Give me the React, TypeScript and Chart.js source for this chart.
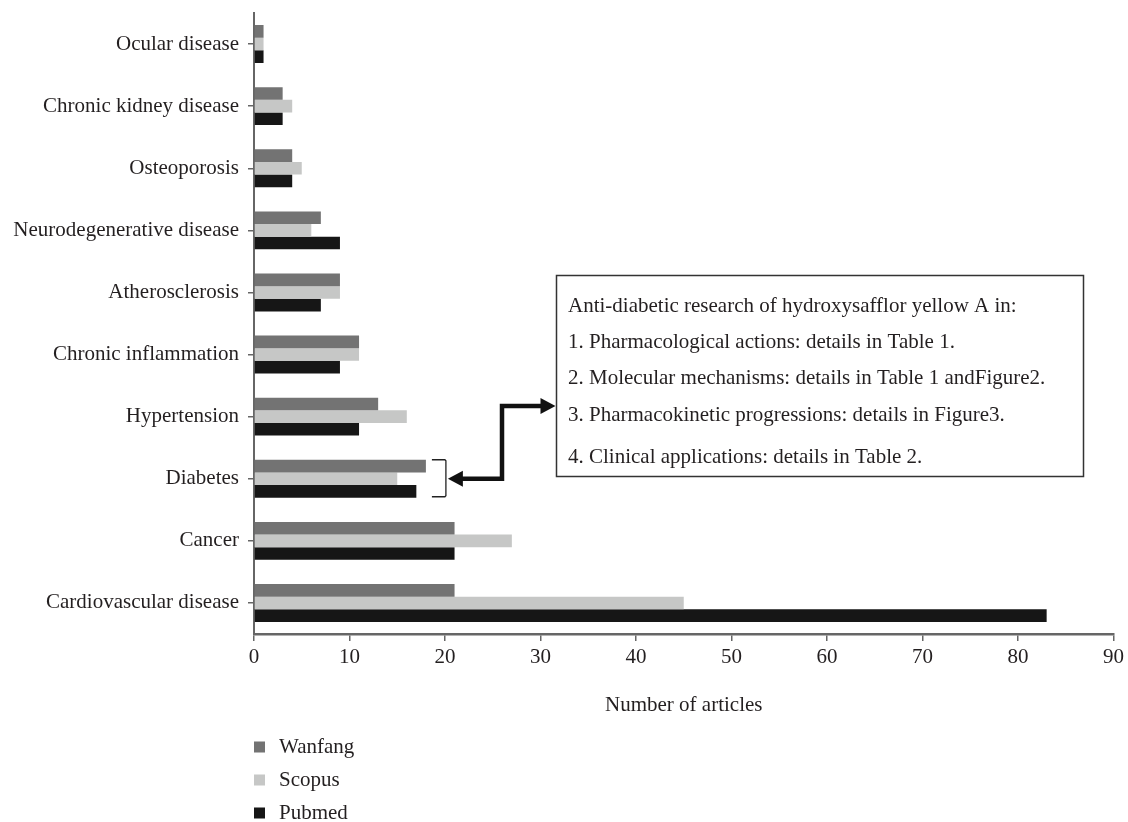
import React, { useEffect, useRef } from "react";
import { Chart, registerables } from "chart.js";

Chart.register(...registerables);

const categories = [
  "Ocular disease",
  "Chronic kidney disease",
  "Osteoporosis",
  "Neurodegenerative disease",
  "Atherosclerosis",
  "Chronic inflammation",
  "Hypertension",
  "Diabetes",
  "Cancer",
  "Cardiovascular disease",
];
const seriesNames = ["Wanfang", "Scopus", "Pubmed"];
const wanfang = [1, 3, 4, 7, 9, 11, 13, 18, 21, 21];
const scopus = [1, 4, 5, 6, 9, 11, 16, 15, 27, 45];
const pubmed = [1, 3, 4, 9, 7, 9, 11, 17, 21, 83];
const seriesColors = ["#737373", "#c6c7c6", "#161616"];
const xMin = 0;
const xMax = 90;
const xStep = 10;
const axisTitle = "Number of articles";
const highlightCategory = "Diabetes";
const noteLines = [
  "Anti-diabetic research of hydroxysafflor yellow A in:",
  "1. Pharmacological actions: details in Table 1.",
  "2. Molecular mechanisms: details in Table 1 andFigure2.",
  "3. Pharmacokinetic progressions: details in Figure3.",
  "4. Clinical applications: details in Table 2.",
];

const FONT = "'Liberation Serif', 'Times New Roman', serif";
const TEXT = "#231f20";
const AXIS = "#666666";

const extrasPlugin = {
  id: "extras",
  afterDraw(chart: any) {
    const ctx = chart.ctx as CanvasRenderingContext2D;
    const xs = chart.scales.x;
    const ys = chart.scales.y;
    ctx.save();

    // legend
    ctx.font = `21px ${FONT}`;
    ctx.textBaseline = "middle";
    ctx.textAlign = "left";
    chart.data.datasets.forEach((ds: any, i: number) => {
      const y = 747 + i * 33;
      ctx.fillStyle = ds.backgroundColor;
      ctx.fillRect(254, y - 5.5, 11, 11);
      ctx.fillStyle = TEXT;
      ctx.fillText(ds.label, 279, y);
    });

    // annotation box
    const boxL = 556.5, boxT = 275.5, boxR = 1083.5, boxB = 476.5;
    ctx.strokeStyle = "#333";
    ctx.lineWidth = 1.5;
    ctx.strokeRect(boxL, boxT, boxR - boxL, boxB - boxT);
    ctx.fillStyle = TEXT;
    const lineYs = [306, 342, 378, 415, 457];
    noteLines.forEach((t, i) => ctx.fillText(t, 568, lineYs[i]));

    // bracket + arrow anchored on highlighted category
    const idx = categories.indexOf(highlightCategory);
    const cy = ys.getPixelForValue(idx);
    const maxV = Math.max(wanfang[idx], scopus[idx], pubmed[idx]);
    const bx = xs.getPixelForValue(maxV) + 6;
    ctx.strokeStyle = "#222";
    ctx.lineWidth = 1.3;
    ctx.beginPath();
    ctx.moveTo(bx, cy - 19);
    ctx.lineTo(bx + 13, cy - 19);
    ctx.lineTo(bx + 14, cy - 18);
    ctx.lineTo(bx + 14, cy + 17);
    ctx.lineTo(bx + 13, cy + 18);
    ctx.lineTo(bx, cy + 18);
    ctx.stroke();

    const tipL = bx + 16;
    const midX = 502;
    const arrowY2 = 406;
    const tipR = boxL - 1;
    ctx.strokeStyle = "#111";
    ctx.fillStyle = "#111";
    ctx.lineWidth = 4.5;
    ctx.lineJoin = "miter";
    ctx.beginPath();
    ctx.moveTo(tipL + 12, cy);
    ctx.lineTo(midX, cy);
    ctx.lineTo(midX, arrowY2);
    ctx.lineTo(tipR - 12, arrowY2);
    ctx.stroke();
    ctx.beginPath();
    ctx.moveTo(tipL, cy);
    ctx.lineTo(tipL + 15, cy - 8);
    ctx.lineTo(tipL + 15, cy + 8);
    ctx.closePath();
    ctx.fill();
    ctx.beginPath();
    ctx.moveTo(tipR, arrowY2);
    ctx.lineTo(tipR - 15, arrowY2 - 8);
    ctx.lineTo(tipR - 15, arrowY2 + 8);
    ctx.closePath();
    ctx.fill();

    ctx.restore();
  },
};

export default function App() {
  const ref = useRef<HTMLCanvasElement | null>(null);
  useEffect(() => {
    if (!ref.current) return;
    const seriesData = [wanfang, scopus, pubmed];
    const chart = new Chart(ref.current, {
      type: "bar",
      data: {
        labels: categories,
        datasets: seriesNames.map((n, i) => ({
          label: n,
          data: seriesData[i],
          backgroundColor: seriesColors[i],
          borderWidth: 0,
          barPercentage: 1,
          categoryPercentage: 0.61,
        })),
      },
      options: {
        indexAxis: "y",
        animation: false,
        responsive: false,
        devicePixelRatio: 1,
        layout: { padding: { left: 0, right: 14, top: 13, bottom: 104 } },
        plugins: {
          legend: { display: false },
          tooltip: { enabled: false },
        },
        scales: {
          x: {
            min: xMin,
            max: xMax,
            ticks: {
              stepSize: xStep,
              color: TEXT,
              font: { family: FONT, size: 21 },
              padding: 4,
              maxRotation: 0,
            },
            grid: {
              drawOnChartArea: false,
              drawTicks: true,
              tickLength: 7,
              color: AXIS,
              lineWidth: 1.5,
            },
            border: { display: true, color: AXIS, width: 2.5 },
            title: {
              display: true,
              text: axisTitle,
              color: TEXT,
              font: { family: FONT, size: 21 },
              padding: { top: 0, bottom: 0 },
            },
            afterFit: (s: any) => {
              s.height = 84;
            },
          },
          y: {
            ticks: {
              color: TEXT,
              font: { family: FONT, size: 21 },
              padding: 9,
            },
            grid: {
              offset: false,
              drawOnChartArea: false,
              drawTicks: true,
              tickLength: 6,
              color: AXIS,
              lineWidth: 1.5,
            },
            border: { display: true, color: AXIS, width: 2 },
            afterFit: (s: any) => {
              s.width = 254;
              s.paddingTop = 0;
              s.paddingBottom = 0;
            },
          },
        },
      },
      plugins: [extrasPlugin],
    } as any);
    return () => chart.destroy();
  }, []);
  return (
    <div style={{ position: "fixed", left: 0, top: 0, width: 1128, height: 822, background: "#fff" }}>
      <canvas ref={ref} width={1128} height={822} style={{ display: "block" }} />
    </div>
  );
}
